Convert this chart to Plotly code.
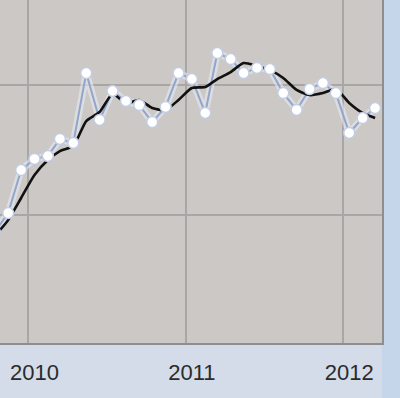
import plotly.graph_objects as go

months = ["2009-10-15", "2009-11-15", "2009-12-15",
          "2010-01-15", "2010-02-15", "2010-03-15", "2010-04-15", "2010-05-15", "2010-06-15",
          "2010-07-15", "2010-08-15", "2010-09-15", "2010-10-15", "2010-11-15", "2010-12-15",
          "2011-01-15", "2011-02-15", "2011-03-15", "2011-04-15", "2011-05-15", "2011-06-15",
          "2011-07-15", "2011-08-15", "2011-09-15", "2011-10-15", "2011-11-15", "2011-12-15",
          "2012-01-15", "2012-02-15", "2012-03-15"]

monthly_values = [87, 101.5, 134.6,
                  143.1, 145.4, 158.5, 155.4, 209.2, 173.1,
                  195.4, 187.7, 184.6, 171.5, 183.1, 209.2,
                  204.6, 178.5, 224.6, 220.0, 209.2, 213.1,
                  212.3, 193.8, 180.8, 196.9, 201.5, 193.8,
                  163.1, 174.6, 182.3]

trend_values = [83.8, 96.2, 113.1,
                130.8, 142.3, 149.2, 153.1, 172.3, 179.2,
                193.1, 186.2, 188.5, 182.3, 180.8, 188.5,
                197.7, 198.5, 204.6, 210.0, 216.9, 214.6,
                211.5, 205.4, 196.2, 192.3, 193.8, 196.9,
                186.2, 178.5, 174.6]

tick_vals = ["2010-01-01", "2011-01-01", "2012-01-01"]
tick_text = ["2010", "2011", "2012"]

fig = go.Figure()

# soft halo under the monthly line
fig.add_trace(go.Scatter(
    x=months, y=monthly_values, mode="lines",
    line=dict(color="rgba(235,238,248,0.55)", width=7),
    hoverinfo="skip", showlegend=False))

fig.add_trace(go.Scatter(
    x=months, y=monthly_values, mode="lines",
    line=dict(color="#93a5c9", width=2),
    showlegend=False))

fig.add_trace(go.Scatter(
    x=months, y=trend_values, mode="lines",
    line=dict(color="#111111", width=2.6, shape="spline", smoothing=0.6),
    showlegend=False))

fig.add_trace(go.Scatter(
    x=months, y=monthly_values, mode="markers",
    marker=dict(color="white", size=11, line=dict(color="#c3cde2", width=1.5)),
    showlegend=False))

fig.update_layout(
    width=400, height=398,
    margin=dict(l=0, r=18, t=0, b=55),
    paper_bgcolor="#d3dce8",
    plot_bgcolor="#cbc8c6",
    shapes=[dict(type="rect", xref="paper", yref="paper", x0=1.0, x1=1.06, y0=-0.2, y1=1.0,
                 fillcolor="#c6d6ea", line=dict(width=0), layer="below")],
)

fig.update_xaxes(
    type="date",
    range=["2009-10-27", "2012-03-31"],
    tickvals=tick_vals, ticktext=tick_text,
    tickfont=dict(family="Liberation Sans, Arial", size=22, color="#2b2b2b"),
    ticklabelshift=6, ticklabelstandoff=9,
    showgrid=True, gridcolor="#a9a7a6", gridwidth=1.5,
    showline=True, linecolor="#8e8e8e", linewidth=1.5,
    ticks="", zeroline=False,
)

fig.update_yaxes(
    range=[1.54, 265.4],
    side="right",
    tickvals=[100, 200],
    showticklabels=False,
    showgrid=True, gridcolor="#a9a7a6", gridwidth=1.5,
    showline=True, linecolor="#8e8e8e", linewidth=1.5,
    ticks="", zeroline=False,
)

fig.write_html("out.html")
